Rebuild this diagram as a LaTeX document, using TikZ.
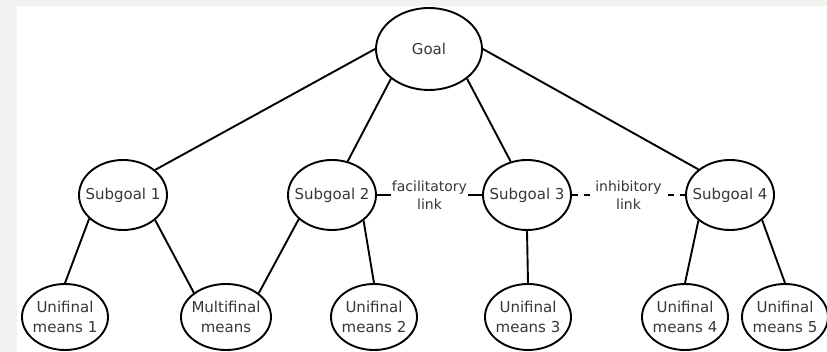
\documentclass[tikz,border=0pt]{standalone}
\usepackage{fontspec}
\setmainfont{DejaVu Sans}
\usetikzlibrary{shapes}
\definecolor{pagegray}{RGB}{242,242,240}
\definecolor{inkgray}{RGB}{55,55,55}
\tikzstyle{goalnode} = [draw, ellipse, text=inkgray,
    minimum width=106pt, minimum height=82pt]
\tikzstyle{subgoal} = [draw, ellipse, text=inkgray, inner xsep=-8pt,
    minimum width=88pt, minimum height=70pt]
\tikzstyle{means} = [draw, ellipse, text=inkgray, align=center,
    inner xsep=-4pt, inner ysep=0pt,
    minimum width=86pt, minimum height=66pt]
\tikzstyle{linklabel} = [fill=white, text=inkgray, align=center,
    inner sep=1pt, font=\fontsize{14}{18}\selectfont]

\begin{document}
\begin{tikzpicture}[line width=1.9pt,
    font=\fontsize{15}{20}\selectfont]
    % page background: gray frame, white sheet
    \useasboundingbox (-123pt,-157pt) rectangle (704pt,195pt);
    \fill [pagegray] (-123pt,-157pt) rectangle (704pt,195pt);
    \fill [white] (-106pt,-157pt) rectangle (704pt,189pt);

    % We start with the row of subgoals
    \node [subgoal] (sub1) {Subgoal 1};
    \node [subgoal, right of=sub1, node distance=209pt] (sub2) {Subgoal 2};
    \node [subgoal, right of=sub2, node distance=195pt] (sub3) {Subgoal 3};
    \node [subgoal, right of=sub3, node distance=203pt] (sub4) {Subgoal 4};
    \node [goalnode, above of=sub2, node distance=146pt,
            xshift=97pt] (goal) {Goal};

    % The means sit on the bottom row
    \node [means, below of=sub1, node distance=122pt,
            xshift=-58pt] (means1) {Unifinal\\means 1};
    \node [means, right of=means1, node distance=161pt,
            minimum width=90pt] (multi) {Multifinal\\means};
    \node [means, right of=multi, node distance=148pt] (means2) {Unifinal\\means 2};
    \node [means, right of=means2, node distance=154pt] (means3) {Unifinal\\means 3};
    \node [means, right of=means3, node distance=157pt] (means4) {Unifinal\\means 4};
    \node [means, right of=means4, node distance=100pt] (means5) {Unifinal\\means 5};

    % Goal to subgoals
    \draw (goal.west) -- (sub1.38);
    \draw (goal.218) -- (sub2.65);
    \draw (goal.-38) -- (sub3.116);
    \draw (goal.east) -- (sub4.141);

    % Subgoals to means
    \draw (sub1.215) -- (means1.north);
    \draw (sub1.-38) -- (multi.143);
    \draw (sub2.216) -- (multi.36);
    \draw (sub2.-39) -- (means2.north);
    \draw (sub3.south) -- (means3.north);
    \draw (sub4.219) -- (means4.north);
    \draw (sub4.-38) -- (means5.north);

    % Links between neighbouring subgoals
    \draw (sub2.east) -- node [linklabel] {facilitatory\\link} (sub3.west);
    \draw [dash pattern=on 6pt off 6pt] (sub3.east) --
        node [linklabel] {inhibitory\\link} (sub4.west);
\end{tikzpicture}
\end{document}
